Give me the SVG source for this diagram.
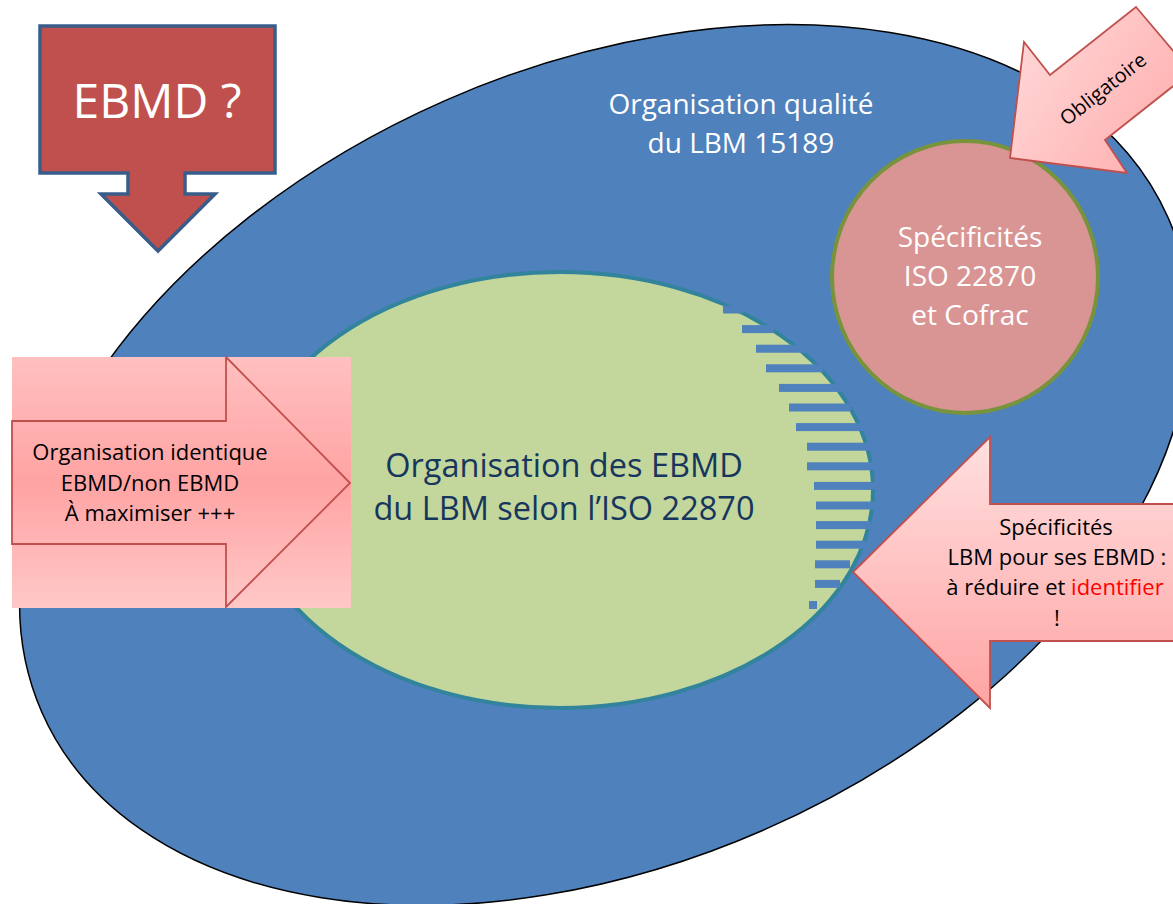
<svg xmlns="http://www.w3.org/2000/svg" width="1173" height="904" viewBox="0 0 1173 904">
<style>
.t{font-family:"Open Sans","Liberation Sans",sans-serif;text-anchor:middle}
.w{fill:#ffffff}
.k{fill:#000000}
.n{fill:#17365d}
.bar{fill:#4f81bd}
.pk{stroke:#c0504d;stroke-width:1.8}
</style>
<defs>
<linearGradient id="gL" x1="0" y1="0" x2="0" y2="1">
<stop offset="0" stop-color="#ffc0c0"/>
<stop offset="0.5" stop-color="#ffa3a3"/>
<stop offset="1" stop-color="#ffc8c8"/>
</linearGradient>
<linearGradient id="gR" x1="0" y1="0" x2="0" y2="1">
<stop offset="0" stop-color="#ffe0e0"/>
<stop offset="1" stop-color="#ffa3a3"/>
</linearGradient>
<linearGradient id="gO" x1="0" y1="0" x2="1" y2="0.6">
<stop offset="0" stop-color="#ffdcdc"/>
<stop offset="1" stop-color="#ffb0b0"/>
</linearGradient>
</defs>

<g id="node-lbm15189">
<ellipse cx="605" cy="465" rx="615" ry="398" transform="rotate(-23.7 605 465)" fill="#4f81bd" stroke="#000000" stroke-width="1.5"/>
<text class="t w" font-size="28" x="741" y="114">Organisation qualité</text>
<text class="t w" font-size="28" x="741" y="153">du LBM 15189</text>
</g>

<g id="node-ebmd-iso22870">
<ellipse cx="560" cy="490" rx="313" ry="218" fill="#c3d69b" stroke="#31849b" stroke-width="4"/>
<g id="stripes">
<rect class="bar" x="723" y="305.5" width="20" height="8"/>
<rect class="bar" x="742" y="325.1" width="32" height="8"/>
<rect class="bar" x="756" y="344.7" width="51" height="8"/>
<rect class="bar" x="766" y="364.3" width="57" height="8"/>
<rect class="bar" x="779" y="383.9" width="64" height="8"/>
<rect class="bar" x="789" y="403.5" width="62" height="8"/>
<rect class="bar" x="796" y="423.1" width="67" height="8"/>
<rect class="bar" x="807" y="442.7" width="62" height="8"/>
<rect class="bar" x="807" y="462.3" width="68" height="8"/>
<rect class="bar" x="814" y="481.9" width="61" height="8"/>
<rect class="bar" x="816" y="501.5" width="59" height="8"/>
<rect class="bar" x="816" y="521.1" width="55" height="8"/>
<rect class="bar" x="816" y="540.7" width="50" height="8"/>
<rect class="bar" x="815" y="560.3" width="35" height="8"/>
<rect class="bar" x="815" y="579.9" width="25" height="8"/>
<rect class="bar" x="809" y="601" width="8" height="8"/>
</g>
<text class="t n" font-size="32.5" x="564" y="477">Organisation des EBMD</text>
<text class="t n" font-size="32.5" x="564" y="520">du LBM selon l’ISO 22870</text>
</g>

<g id="node-specificites-iso">
<ellipse cx="965" cy="277" rx="133" ry="136" fill="#d99594" stroke="#77933c" stroke-width="4"/>
<text class="t w" font-size="28" x="970" y="247">Spécificités</text>
<text class="t w" font-size="28" x="970" y="286">ISO 22870</text>
<text class="t w" font-size="28" x="970" y="325">et Cofrac</text>
</g>

<g id="node-obligatoire">
<polygon class="pk" points="1136,7 1191,72 1105,140 1127,173 1010,158 1024,42 1050,75" fill="url(#gO)"/>
<text class="t k" font-size="20" transform="translate(1103,89) rotate(-38.3)" x="0" y="7">Obligatoire</text>
</g>

<g id="node-ebmd-question">
<polygon points="40,26 275,26 275,173 185,173 185,194 215,194 158,251 101,194 128,194 128,173 40,173" fill="#c0504d" stroke="#385d8a" stroke-width="3.5" stroke-linejoin="miter"/>
<text class="t w" font-size="48" x="157" y="118">EBMD ?</text>
</g>

<g id="node-organisation-identique">
<rect x="12" y="357" width="339" height="251" fill="url(#gL)"/>
<path class="pk" d="M12,421 H226 V357 L350,483 L226,607 V544 H12 Z" fill="url(#gL)"/>
<text class="t k" font-size="22" x="150" y="460">Organisation identique</text>
<text class="t k" font-size="22" x="150" y="491">EBMD/non EBMD</text>
<text class="t k" font-size="22" x="150" y="521">À maximiser +++</text>
</g>

<g id="node-specificites-lbm">
<path class="pk" d="M1185,504 H990 V437 L853,572 L990,708 V641 H1185 Z" fill="url(#gR)"/>
<text class="t k" font-size="22" x="1056" y="535">Spécificités</text>
<text class="t k" font-size="22" x="1057" y="565">LBM pour ses EBMD :</text>
<text class="t k" font-size="22" x="1055" y="595">à réduire et <tspan fill="#ff0000">identifier</tspan></text>
<text class="t k" font-size="22" x="1057" y="626">!</text>
</g>

<g id="connectors"/>
</svg>
